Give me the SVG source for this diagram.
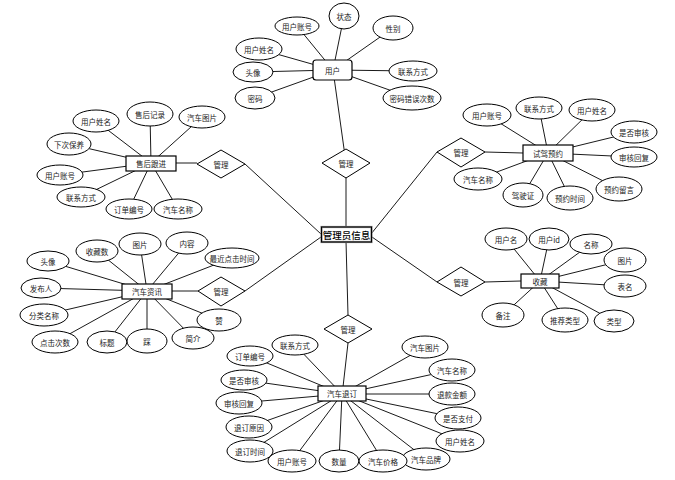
<svg xmlns="http://www.w3.org/2000/svg" width="675" height="480" viewBox="0 0 675 480">
<style>
.c line{stroke:#000;stroke-width:0.9}
ellipse{fill:#fff;stroke:#000;stroke-width:1}
rect.e{fill:#fff;stroke:#000;stroke-width:1.2}
polygon{fill:#fff;stroke:#000;stroke-width:1}
text{font-family:"Noto Sans CJK SC","Noto Sans",sans-serif;font-size:7.5px;fill:#222;text-anchor:middle;dominant-baseline:central}
</style>
<rect width="675" height="480" fill="#fff"/>
<g class="c" id="connectors">
<line x1="346" y1="241" x2="346" y2="163"/>
<line x1="346" y1="163" x2="333" y2="70"/>
<line x1="321" y1="234" x2="245" y2="164"/>
<line x1="176" y1="163" x2="197" y2="163"/>
<line x1="371" y1="234" x2="437" y2="152"/>
<line x1="485" y1="152" x2="523" y2="153"/>
<line x1="321" y1="237" x2="245" y2="291"/>
<line x1="172" y1="291" x2="198" y2="291"/>
<line x1="372" y1="237" x2="437" y2="282"/>
<line x1="485" y1="282" x2="521" y2="281"/>
<line x1="346" y1="241" x2="348" y2="315"/>
<line x1="348" y1="343" x2="343" y2="387"/>
<line x1="333" y1="70" x2="297" y2="26"/>
<line x1="333" y1="70" x2="344" y2="16"/>
<line x1="333" y1="70" x2="393" y2="28"/>
<line x1="333" y1="70" x2="259" y2="49"/>
<line x1="333" y1="70" x2="253" y2="72"/>
<line x1="333" y1="70" x2="255" y2="98"/>
<line x1="333" y1="70" x2="413" y2="71"/>
<line x1="333" y1="70" x2="412" y2="98"/>
<line x1="151" y1="163" x2="96" y2="121"/>
<line x1="151" y1="163" x2="150" y2="114"/>
<line x1="151" y1="163" x2="202" y2="117"/>
<line x1="151" y1="163" x2="69" y2="144"/>
<line x1="151" y1="163" x2="60" y2="175"/>
<line x1="151" y1="163" x2="81" y2="197"/>
<line x1="151" y1="163" x2="129" y2="209"/>
<line x1="151" y1="163" x2="178" y2="209"/>
<line x1="548" y1="153" x2="487" y2="115"/>
<line x1="548" y1="153" x2="539" y2="108"/>
<line x1="548" y1="153" x2="592" y2="110"/>
<line x1="548" y1="153" x2="634" y2="132"/>
<line x1="548" y1="153" x2="634" y2="157"/>
<line x1="548" y1="153" x2="619" y2="189"/>
<line x1="548" y1="153" x2="570" y2="198"/>
<line x1="548" y1="153" x2="523" y2="195"/>
<line x1="548" y1="153" x2="478" y2="179"/>
<line x1="147" y1="291" x2="97" y2="251"/>
<line x1="147" y1="291" x2="140" y2="244"/>
<line x1="147" y1="291" x2="187" y2="243"/>
<line x1="147" y1="291" x2="232" y2="258"/>
<line x1="147" y1="291" x2="48" y2="261"/>
<line x1="147" y1="291" x2="41" y2="288"/>
<line x1="147" y1="291" x2="44" y2="315"/>
<line x1="147" y1="291" x2="55" y2="342"/>
<line x1="147" y1="291" x2="107" y2="342"/>
<line x1="147" y1="291" x2="147" y2="341"/>
<line x1="147" y1="291" x2="193" y2="338"/>
<line x1="147" y1="291" x2="219" y2="320"/>
<line x1="540" y1="281" x2="506" y2="239"/>
<line x1="540" y1="281" x2="549" y2="239"/>
<line x1="540" y1="281" x2="591" y2="244"/>
<line x1="540" y1="281" x2="625" y2="260"/>
<line x1="540" y1="281" x2="625" y2="286"/>
<line x1="540" y1="281" x2="614" y2="321"/>
<line x1="540" y1="281" x2="565" y2="320"/>
<line x1="540" y1="281" x2="503" y2="315"/>
<line x1="342" y1="394" x2="295" y2="345"/>
<line x1="342" y1="394" x2="250" y2="356"/>
<line x1="342" y1="394" x2="244" y2="380"/>
<line x1="342" y1="394" x2="239" y2="403"/>
<line x1="342" y1="394" x2="249" y2="427"/>
<line x1="342" y1="394" x2="250" y2="451"/>
<line x1="342" y1="394" x2="292" y2="461"/>
<line x1="342" y1="394" x2="339" y2="461"/>
<line x1="342" y1="394" x2="425" y2="347"/>
<line x1="342" y1="394" x2="452" y2="370"/>
<line x1="342" y1="394" x2="452" y2="394"/>
<line x1="342" y1="394" x2="458" y2="418"/>
<line x1="342" y1="394" x2="460" y2="441"/>
<line x1="342" y1="394" x2="426" y2="459"/>
<line x1="342" y1="394" x2="383" y2="461"/>
</g>

<g id="admin">
<rect x="321.5" y="227" width="50" height="15" fill="#fff" stroke="#888" stroke-width="2.2"/>
<rect x="321.5" y="227" width="50" height="15" fill="none" stroke="#000" stroke-width="1"/>
<text x="346.5" y="234.5" style="font-size:9.5px;fill:#000;font-weight:500">管理员信息</text>
</g>

<g id="rel-user"><polygon points="346,149 370,163 346,178 322,163"/><text x="346" y="163">管理</text></g>
<g id="rel-after"><polygon points="221,150 245,164 221,178 197,164"/><text x="221" y="164">管理</text></g>
<g id="rel-drive"><polygon points="461,138 485,152 461,167 437,152"/><text x="461" y="152">管理</text></g>
<g id="rel-news"><polygon points="221,277 245,291 221,306 198,291"/><text x="221" y="291">管理</text></g>
<g id="rel-fav"><polygon points="461,267 485,282 461,296 437,282"/><text x="461" y="282">管理</text></g>
<g id="rel-cancel"><polygon points="348,315 372,329 348,343 324,329"/><text x="348" y="329">管理</text></g>

<g id="user">
<rect class="e" x="313" y="60" width="39" height="20" rx="3"/><text x="332.5" y="70">用户</text>
<ellipse cx="297" cy="26" rx="22" ry="9"/><text x="297" y="26">用户账号</text>
<ellipse cx="344" cy="16" rx="15" ry="13"/><text x="344" y="16">状态</text>
<ellipse cx="393" cy="28" rx="20" ry="12"/><text x="393" y="28">性别</text>
<ellipse cx="259" cy="49" rx="23" ry="11"/><text x="259" y="49">用户姓名</text>
<ellipse cx="253" cy="72" rx="20" ry="10"/><text x="253" y="72">头像</text>
<ellipse cx="255" cy="98" rx="20" ry="11"/><text x="255" y="98">密码</text>
<ellipse cx="413" cy="71" rx="24" ry="10"/><text x="413" y="71">联系方式</text>
<ellipse cx="412" cy="98" rx="29" ry="12"/><text x="412" y="98">密码错误次数</text>
</g>

<g id="after-sales">
<rect class="e" x="126" y="156" width="50" height="15"/><text x="151" y="163.5">售后跟进</text>
<ellipse cx="96" cy="121" rx="23" ry="11"/><text x="96" y="121">用户姓名</text>
<ellipse cx="150" cy="114" rx="23" ry="12"/><text x="150" y="114">售后记录</text>
<ellipse cx="202" cy="117" rx="23" ry="11"/><text x="202" y="117">汽车图片</text>
<ellipse cx="69" cy="144" rx="22" ry="11"/><text x="69" y="144">下次保养</text>
<ellipse cx="60" cy="175" rx="23" ry="10"/><text x="60" y="175">用户账号</text>
<ellipse cx="81" cy="197" rx="24" ry="10"/><text x="81" y="197">联系方式</text>
<ellipse cx="129" cy="209" rx="23" ry="10"/><text x="129" y="209">订单编号</text>
<ellipse cx="178" cy="209" rx="24" ry="10"/><text x="178" y="209">汽车名称</text>
</g>

<g id="test-drive">
<rect class="e" x="523" y="145" width="50" height="16"/><text x="548" y="153">试驾预约</text>
<ellipse cx="487" cy="115" rx="24" ry="11"/><text x="487" y="115">用户账号</text>
<ellipse cx="539" cy="108" rx="23" ry="11"/><text x="539" y="108">联系方式</text>
<ellipse cx="592" cy="110" rx="23" ry="11"/><text x="592" y="110">用户姓名</text>
<ellipse cx="634" cy="132" rx="23" ry="11"/><text x="634" y="132">是否审核</text>
<ellipse cx="634" cy="157" rx="23" ry="10"/><text x="634" y="157">审核回复</text>
<ellipse cx="619" cy="189" rx="23" ry="12"/><text x="619" y="189">预约留言</text>
<ellipse cx="570" cy="198" rx="23" ry="12"/><text x="570" y="198">预约时间</text>
<ellipse cx="523" cy="195" rx="20" ry="12"/><text x="523" y="195">驾驶证</text>
<ellipse cx="478" cy="179" rx="24" ry="11"/><text x="478" y="179">汽车名称</text>
</g>

<g id="car-news">
<rect class="e" x="122" y="284" width="50" height="15"/><text x="147" y="291.5">汽车资讯</text>
<ellipse cx="97" cy="251" rx="21" ry="11"/><text x="97" y="251">收藏数</text>
<ellipse cx="140" cy="244" rx="21" ry="11"/><text x="140" y="244">图片</text>
<ellipse cx="187" cy="243" rx="21" ry="11"/><text x="187" y="243">内容</text>
<ellipse cx="232" cy="258" rx="27" ry="10"/><text x="232" y="258">最近点击时间</text>
<ellipse cx="48" cy="261" rx="21" ry="10"/><text x="48" y="261">头像</text>
<ellipse cx="41" cy="288" rx="20" ry="10"/><text x="41" y="288">发布人</text>
<ellipse cx="44" cy="315" rx="24" ry="11"/><text x="44" y="315">分类名称</text>
<ellipse cx="55" cy="342" rx="23" ry="11"/><text x="55" y="342">点击次数</text>
<ellipse cx="107" cy="342" rx="20" ry="11"/><text x="107" y="342">标题</text>
<ellipse cx="147" cy="341" rx="20" ry="12"/><text x="147" y="341">踩</text>
<ellipse cx="193" cy="338" rx="21" ry="11"/><text x="193" y="338">简介</text>
<ellipse cx="219" cy="320" rx="22" ry="11"/><text x="219" y="320">赞</text>
</g>

<g id="favorite">
<rect class="e" x="521" y="274" width="38" height="14"/><text x="540" y="281">收藏</text>
<ellipse cx="506" cy="239" rx="21" ry="11"/><text x="506" y="239">用户名</text>
<ellipse cx="549" cy="239" rx="20" ry="11"/><text x="549" y="239">用户id</text>
<ellipse cx="591" cy="244" rx="21" ry="10"/><text x="591" y="244">名称</text>
<ellipse cx="625" cy="260" rx="21" ry="12"/><text x="625" y="260">图片</text>
<ellipse cx="625" cy="286" rx="21" ry="11"/><text x="625" y="286">表名</text>
<ellipse cx="614" cy="321" rx="20" ry="11"/><text x="614" y="321">类型</text>
<ellipse cx="565" cy="320" rx="23" ry="12"/><text x="565" y="320">推荐类型</text>
<ellipse cx="503" cy="315" rx="21" ry="12"/><text x="503" y="315">备注</text>
</g>

<g id="car-cancel">
<rect class="e" x="318" y="386" width="48" height="15"/><text x="342" y="393.5">汽车退订</text>
<ellipse cx="295" cy="345" rx="23" ry="10"/><text x="295" y="345">联系方式</text>
<ellipse cx="250" cy="356" rx="23" ry="10"/><text x="250" y="356">订单编号</text>
<ellipse cx="244" cy="380" rx="23" ry="10"/><text x="244" y="380">是否审核</text>
<ellipse cx="239" cy="403" rx="23" ry="11"/><text x="239" y="403">审核回复</text>
<ellipse cx="249" cy="427" rx="23" ry="11"/><text x="249" y="427">退订原因</text>
<ellipse cx="250" cy="451" rx="23" ry="11"/><text x="250" y="451">退订时间</text>
<ellipse cx="292" cy="461" rx="24" ry="11"/><text x="292" y="461">用户账号</text>
<ellipse cx="339" cy="461" rx="20" ry="11"/><text x="339" y="461">数量</text>
<ellipse cx="425" cy="347" rx="23" ry="11"/><text x="425" y="347">汽车图片</text>
<ellipse cx="452" cy="370" rx="23" ry="11"/><text x="452" y="370">汽车名称</text>
<ellipse cx="452" cy="394" rx="23" ry="11"/><text x="452" y="394">退款金额</text>
<ellipse cx="458" cy="418" rx="23" ry="11"/><text x="458" y="418">是否支付</text>
<ellipse cx="460" cy="441" rx="24" ry="11"/><text x="460" y="441">用户姓名</text>
<ellipse cx="426" cy="459" rx="24" ry="11"/><text x="426" y="459">汽车品牌</text>
<ellipse cx="383" cy="461" rx="24" ry="11"/><text x="383" y="461">汽车价格</text>
</g>
</svg>
